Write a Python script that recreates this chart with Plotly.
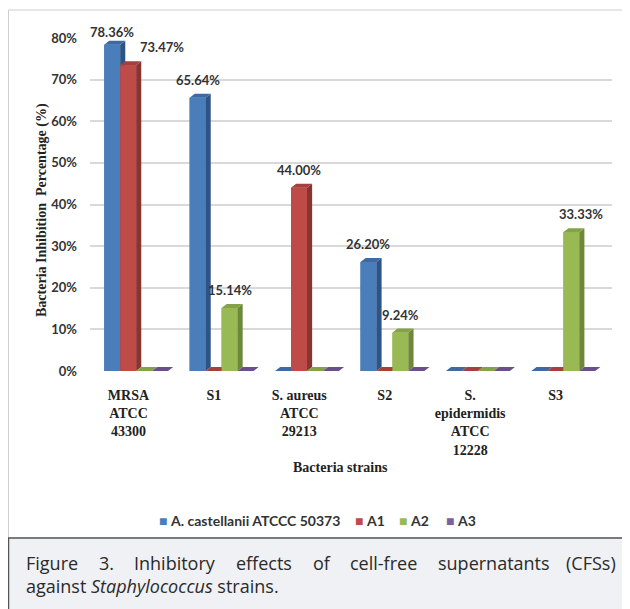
import plotly.graph_objects as go

# ---------------- data ----------------
categories = ["MRSA<br>ATCC<br>43300", "S1", "S. aureus<br>ATCC<br>29213", "S2",
              "S.<br>epidermidis<br>ATCC<br>12228", "S3"]
series_names = ["A. castellanii ATCCC 50373", "A1", "A2", "A3"]
castellanii = [0.7836, 0.6564, 0.0, 0.2620, 0.0, 0.0]
a1 = [0.7347, 0.0, 0.4400, 0.0, 0.0, 0.0]
a2 = [0.0, 0.1514, 0.0, 0.0924, 0.0, 0.3333]
a3 = [0.0, 0.0, 0.0, 0.0, 0.0, 0.0]
series_values = [castellanii, a1, a2, a3]
y_tick_values = [0, 0.1, 0.2, 0.3, 0.4, 0.5, 0.6, 0.7, 0.8]

# ---------------- styles ----------------
front_col = ["#4a7ebb", "#be4b48", "#98b954", "#7d60a0"]
top_col = ["#3d6aa3", "#a5403d", "#84a247", "#6a4f8c"]
side_col = ["#2e5486", "#8a3432", "#6e873a", "#56407a"]

W = 0.187          # bar width (category units)
DX = 0.06          # depth offset x
DY = 0.0096        # depth offset y
offsets = [-1.5 * W, -0.5 * W, 0.5 * W, 1.5 * W]

# the page body has an 8px margin, so the figure starts at (8, 8) in the window
OX, OY = 8, 8
FW, FH = 622, 601
L, R, T, B = 82, 18, 30, 238
PW, PH = FW - L - R, FH - T - B
PLOT_LEFT = OX + L
PLOT_BOTTOM = OY + FH - B


def px(x):
    return (x - PLOT_LEFT) / PW


def py(y):
    return (PLOT_BOTTOM - y) / PH


fig = go.Figure()

# primary bars (front faces)
for k, (name, vals) in enumerate(zip(series_names, series_values)):
    fig.add_trace(go.Bar(
        x=[i + offsets[k] for i in range(len(categories))], y=vals, width=W,
        name=name, marker=dict(color=front_col[k], line=dict(width=0)),
        hoverinfo="y", showlegend=False))


def poly_trace(xs, ys, color):
    return go.Scatter(x=xs, y=ys, mode="none", fill="toself", fillcolor=color,
                      showlegend=False, hoverinfo="skip")


# 3-D faces, drawn series by series so the next front covers the previous side
for k, vals in enumerate(series_values):
    fx, fy, sx, sy, tx, ty = [], [], [], [], [], []
    for i, v in enumerate(vals):
        l = i + offsets[k] - W / 2
        r = i + offsets[k] + W / 2
        fx += [l, r, r, l, l, None]
        fy += [0, 0, v, v, 0, None]
        sx += [r, r + DX, r + DX, r, r, None]
        sy += [0, DY, v + DY, v, 0, None]
        tx += [l, r, r + DX, l + DX, l, None]
        ty += [v, v, v + DY, v + DY, v, None]
    fig.add_trace(poly_trace(fx, fy, front_col[k]))
    fig.add_trace(poly_trace(sx, sy, side_col[k]))
    fig.add_trace(poly_trace(tx, ty, top_col[k]))

# data labels
nudges = {(1, 0): (34, 0), (2, 5): (10, 0), (0, 0): (0, -5)}
annotations = []
for k, vals in enumerate(series_values):
    for i, v in enumerate(vals):
        if v > 0:
            dxs, dys = nudges.get((k, i), (0, 0))
            annotations.append(dict(
                x=i + offsets[k], y=v, xref="x", yref="y", text=f"{v*100:.2f}%",
                showarrow=False, xanchor="center", yanchor="middle", yshift=18 + dys,
                xshift=dxs,
                font=dict(family="Lato", size=13, color="#333333", weight="bold")))

# axis titles
annotations.append(dict(x=px(340), y=py(467), xref="paper", yref="paper",
                        text="<b>Bacteria strains</b>", showarrow=False,
                        xanchor="center", yanchor="middle",
                        font=dict(family="Liberation Serif", size=14, color="#222222")))
annotations.append(dict(x=px(42), y=py(210), xref="paper", yref="paper",
                        text="<b>Bacteria Inhibition  Percentage (%)</b>", showarrow=False,
                        textangle=-90, xanchor="center", yanchor="middle",
                        font=dict(family="Liberation Serif", size=14, color="#222222")))

# legend (compact, Excel style)
legend_x = [157, 353, 397, 444]
for k, name in enumerate(series_names):
    annotations.append(dict(
        x=px(legend_x[k]), y=py(520), xref="paper", yref="paper", showarrow=False,
        xanchor="left", yanchor="middle",
        text=f"<span style='color:{front_col[k]}'>■</span> <b>{name}</b>",
        font=dict(family="Lato", size=14, color="#333333")))

# caption (line 1 justified word by word)
cap_font = dict(family="Open Sans", size=18, color="#2a2a2a")
words1 = ["Figure", "3.", "Inhibitory", "effects", "of", "cell-free", "supernatants", "(CFSs)"]
word_x = [24, 97, 132, 234, 311, 348, 436, 618]
for j, (w_, x_) in enumerate(zip(words1, word_x)):
    annotations.append(dict(x=px(x_), y=py(563), xref="paper", yref="paper", text=w_,
                            showarrow=False, xanchor="right" if j == len(words1) - 1 else "left",
                            yanchor="middle", font=cap_font))
annotations.append(dict(x=px(24), y=py(586), xref="paper", yref="paper",
                        text="against <i>Staphylococcus</i> strains.", showarrow=False,
                        xanchor="left", yanchor="middle", font=cap_font))

fig.update_layout(
    width=FW, height=FH,
    margin=dict(l=L, r=R, t=T, b=B, autoexpand=False),
    paper_bgcolor="white", plot_bgcolor="white",
    barmode="overlay",
    showlegend=False,
    xaxis=dict(range=[-0.54, 5.57], tickmode="array",
               tickvals=[i - 0.09 for i in range(len(categories))], ticktext=categories,
               showgrid=False, zeroline=False, showline=False, ticks="",
               ticklabelstandoff=14, automargin=False,
               tickfont=dict(family="Liberation Serif", size=14, color="#222222", weight="bold")),
    yaxis=dict(range=[0, 0.8], tickmode="array", tickvals=y_tick_values,
               tickformat=".0%", showgrid=True, gridcolor="#d9d9d9", gridwidth=1.5,
               zeroline=False, showline=False, ticks="", ticklabelstandoff=12,
               automargin=False,
               tickfont=dict(family="Lato", size=13, color="#333333", weight="bold")),
    annotations=annotations,
    shapes=[
        dict(type="rect", xref="paper", yref="paper", x0=px(8.5), x1=px(640), y0=py(538), y1=py(10),
             line=dict(color="#cfcfcf", width=1), fillcolor="rgba(0,0,0,0)", layer="below"),
        dict(type="rect", xref="paper", yref="paper", x0=px(8.5), x1=px(640), y0=py(620), y1=py(538),
             line=dict(color="#555555", width=1.5), fillcolor="#eff1f4", layer="below"),
    ],
)

fig.write_html("out.html")
